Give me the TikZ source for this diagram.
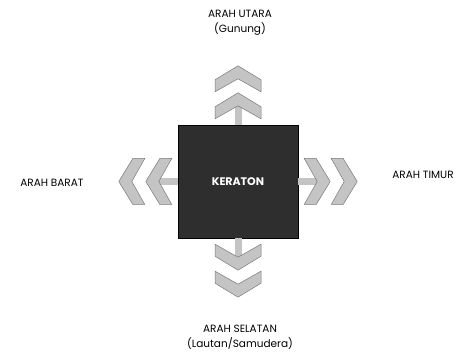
\documentclass[tikz,border=0pt]{standalone}
\usepackage{fontspec}
\setmainfont{Poppins}
\usetikzlibrary{positioning,calc}
\definecolor{keratongray}{HTML}{2E2E2E}
\definecolor{chevrongray}{HTML}{C4C4C4}
\definecolor{chevronedge}{HTML}{7A7A7A}

\begin{document}
\begin{tikzpicture}[x=1pt, y=1pt,
    every node/.style={font=\fontsize{10.5}{15}\selectfont},
    chevron/.style={fill=chevrongray, draw=chevronedge, line width=0.5pt},
    label/.style={align=center, text=black}]
  \useasboundingbox (0,0) rectangle (463,363);
  % Keraton block
  \node[fill=keratongray, draw=black, minimum width=120pt, minimum height=113pt,
        inner sep=0pt, text=white, font=\fontsize{11}{13}\selectfont\bfseries] (keraton) at (238,181.5) {KERATON};
  % Chevrons out of every side
  \foreach \side/\ang in {east/0, north/90, west/180, south/270} {
    \begin{scope}[shift={(keraton.\side)}, rotate=\ang]
      \fill[chevrongray] (0,-3.5) rectangle (20,3.5);
      \draw[chevron] (6,-23) -- (18,-23) -- (32,0) -- (18,23) -- (6,23) -- (19,0) -- cycle;
      \draw[chevron] (33,-23) -- (45,-23) -- (59,0) -- (45,23) -- (33,23) -- (46,0) -- cycle;
    \end{scope}
  }
  % Direction labels
  \node[label] (utara) at (240,340) {ARAH UTARA\\(Gunung)};
  \node[label] (barat) at (52,180) {ARAH BARAT};
  \node[label] (timur) at (423,188) {ARAH TIMUR};
  \node[label] (selatan) at (240,26) {ARAH SELATAN\\(Lautan/Samudera)};
\end{tikzpicture}
\end{document}
